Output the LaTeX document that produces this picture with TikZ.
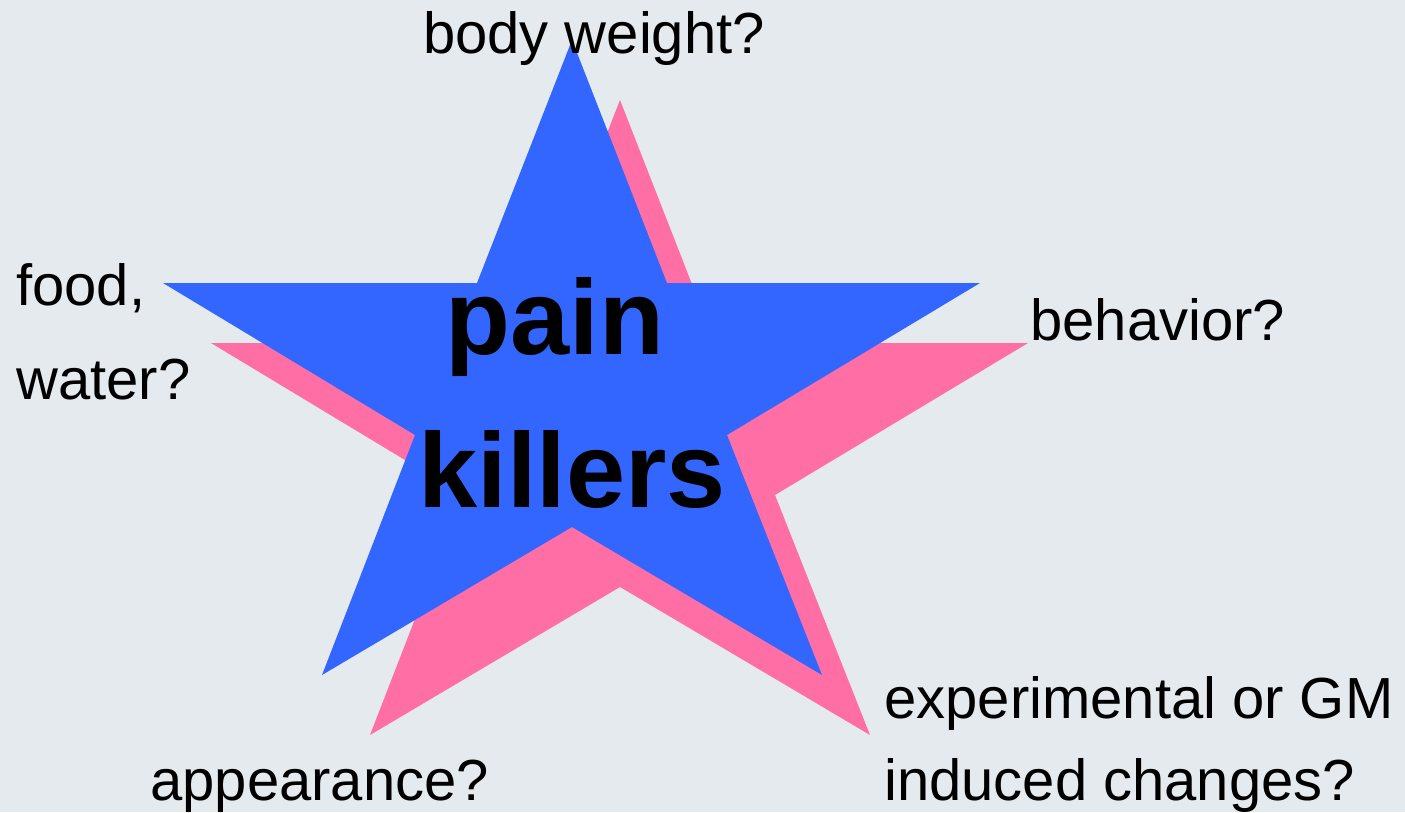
\documentclass[tikz,border=0pt]{standalone}
\usepackage{fontspec}
\setmainfont{Liberation Sans}
\definecolor{bgpale}{RGB}{228,234,237}
\definecolor{starblue}{RGB}{51,102,255}
\definecolor{starpink}{RGB}{255,111,166}
\begin{document}
\begin{tikzpicture}[x=0.02cm, y=-0.02cm,
		question/.style={inner sep=0pt, font=\fontsize{33}{38}\selectfont},
		bigword/.style={inner sep=0pt, font=\fontsize{60.5}{66}\selectfont\bfseries}]
	% Nền
	\fill[bgpale] (0,0) rectangle (1405,812);
	\useasboundingbox (0,0) rectangle (1405,812);
	
	% Hai ngôi sao: bóng hồng phía sau, sao xanh phía trước
	\foreach \dx/\dy/\col in {48/60/starpink, 0/0/starblue} {
		\fill[\col, shift={(\dx,\dy)}] (572,40) -- (667,283) -- (980,283) -- (727,435) -- (822,675)
			-- (572,527) -- (322,675) -- (415,435) -- (163,283) -- (477,283) -- cycle;
	}
	
	% Chữ giữa sao
	\node[bigword, anchor=base] (pain) at (555,354) {pain};
	\node[bigword, anchor=base] (killers) at (572,507) {killers};
	
	% Các câu hỏi quanh sao
	\node[question, anchor=base] (weight) at (594,53) {body weight?};
	\node[question, anchor=base west] (food) at (16,305) {food,};
	\node[question, anchor=base west] (water) at (16,399) {water?};
	\node[question, anchor=base west] (behavior) at (1030,340) {behavior?};
	\node[question, anchor=base west] (experimental) at (884,718) {experimental or GM};
	\node[question, anchor=base west] (induced) at (884,800) {induced changes?};
	\node[question, anchor=base west] (appearance) at (150,800) {appearance?};
\end{tikzpicture}
\end{document}
